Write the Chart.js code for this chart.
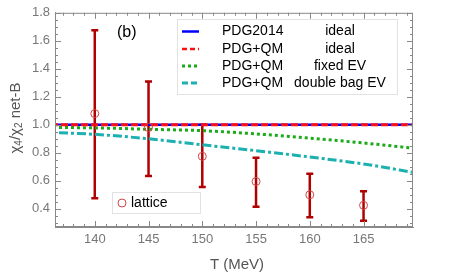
<!DOCTYPE html>
<html><head><meta charset="utf-8">
<script src="https://cdn.jsdelivr.net/npm/chart.js@4/dist/chart.umd.min.js"></script>
<style>html,body{margin:0;padding:0;background:#fff}#wrap{width:450px;height:280px}</style>
</head><body><div id="wrap"><canvas id="c" width="450" height="280"></canvas></div>
<script>
// Lattice data
const latticeT = [140, 145, 150, 155, 160, 165];
const latticeVal = [1.08, 0.98, 0.775, 0.595, 0.50, 0.425];
const latticeHi = [1.675, 1.31, 1.0, 0.765, 0.65, 0.525];
const latticeLo = [0.475, 0.635, 0.555, 0.415, 0.34, 0.315];
// Model curves
const modelT = [135, 140, 145, 150, 155, 160, 165, 170];
const pdgIdeal = [1, 1, 1, 1, 1, 1, 1, 1];
const qmIdeal = [1, 1, 1, 1, 1, 1, 1, 1];
const qmFixedEV = [0.982, 0.978, 0.968, 0.958, 0.935, 0.905, 0.87, 0.83];
const qmDoubleBag = [0.948, 0.932, 0.90, 0.857, 0.815, 0.77, 0.72, 0.655];
// Ticks
const xTicks = [140, 145, 150, 155, 160, 165];
const yTicks = [0.4, 0.6, 0.8, 1.0, 1.2, 1.4, 1.6, 1.8];
const legendRows = [
  ['PDG2014', 'ideal'], ['PDG+QM', 'ideal'], ['PDG+QM', 'fixed EV'], ['PDG+QM', 'double bag EV']
];

const pts = (xs, ys) => xs.map((x, i) => ({x, y: ys[i]}));
const FONT = '"Liberation Sans", Arial, sans-serif';

const styles = [
  {c: '#0000ff', w: 2.5, d: []},
  {c: '#ff1010', w: 3, d: [7, 3]},
  {c: '#1aaa1a', w: 3, d: [3, 3]},
  {c: '#1cb0b0', w: 3, d: [9, 3, 3, 3]}
];
const legendStyles = [
  {c: '#0000ff', w: 2.5, d: []},
  {c: '#ff1010', w: 2.5, d: [5, 3]},
  {c: '#1aaa1a', w: 3, d: [3, 3]},
  {c: '#1cb0b0', w: 3, d: [6, 3, 6, 3]}
];

const deco = {
  id: 'deco',
  beforeDatasetsDraw(chart) {
    const {ctx, scales: {x, y}} = chart;
    ctx.save();
    ctx.beginPath();
    ctx.rect(chart.chartArea.left, chart.chartArea.top, chart.chartArea.width, chart.chartArea.height);
    ctx.clip();
    ctx.strokeStyle = '#b00000';
    ctx.lineWidth = 2.5;
    latticeT.forEach((t, i) => {
      const px = x.getPixelForValue(t);
      const ph = y.getPixelForValue(latticeHi[i]);
      const pl = y.getPixelForValue(latticeLo[i]);
      ctx.beginPath();
      ctx.moveTo(px, ph); ctx.lineTo(px, pl);
      ctx.moveTo(px - 3.5, ph); ctx.lineTo(px + 3.5, ph);
      ctx.moveTo(px - 3.5, pl); ctx.lineTo(px + 3.5, pl);
      ctx.stroke();
    });
    ctx.restore();
  },
  afterDatasetsDraw(chart) {
    const {ctx, chartArea: a, scales: {x, y}} = chart;
    ctx.save();
    // frame
    ctx.strokeStyle = '#888';
    ctx.lineWidth = 1;
    ctx.strokeRect(a.left + 0.5, a.top + 0.5, a.width - 1, a.height - 1);
    // ticks
    ctx.beginPath();
    for (let v = 137; v <= 169; v += 1) {
      const px = Math.round(x.getPixelForValue(v)) + 0.5;
      const len = v % 5 === 0 ? 6 : 3;
      ctx.moveTo(px, a.bottom); ctx.lineTo(px, a.bottom - len);
      ctx.moveTo(px, a.top); ctx.lineTo(px, a.top + len);
    }
    for (let k = 6; k <= 36; k++) {
      const v = k * 0.05;
      const py = Math.round(y.getPixelForValue(v)) + 0.5;
      const len = k % 4 === 0 ? 6 : 3;
      ctx.moveTo(a.left, py); ctx.lineTo(a.left + len, py);
      ctx.moveTo(a.right, py); ctx.lineTo(a.right - len, py);
    }
    ctx.stroke();

    // (b)
    ctx.fillStyle = '#000';
    ctx.font = '16px ' + FONT;
    ctx.textBaseline = 'middle';
    ctx.textAlign = 'left';
    ctx.fillText('(b)', 117, 33);

    // main legend
    ctx.fillStyle = '#fff';
    ctx.fillRect(177, 19, 221, 75);
    ctx.strokeStyle = '#e2e2e2';
    ctx.strokeRect(177.5, 19.5, 220, 75);
    const rowsY = [31.5, 49, 66, 83];
    legendRows.forEach((r, i) => {
      const s = legendStyles[i];
      ctx.strokeStyle = s.c; ctx.lineWidth = s.w; ctx.setLineDash(s.d);
      ctx.beginPath(); ctx.moveTo(182, rowsY[i]); ctx.lineTo(199, rowsY[i]); ctx.stroke();
      ctx.setLineDash([]);
      ctx.fillStyle = '#000';
      ctx.font = '14px ' + FONT;
      ctx.textAlign = 'left';
      ctx.fillText(r[0], 222, rowsY[i]);
      ctx.textAlign = 'center';
      ctx.fillText(r[1], 340, rowsY[i]);
    });

    // lattice legend
    ctx.fillStyle = '#fff';
    ctx.fillRect(112, 192, 89, 22);
    ctx.strokeStyle = '#e2e2e2'; ctx.lineWidth = 1;
    ctx.strokeRect(112.5, 192.5, 88, 21);
    ctx.strokeStyle = '#d04545'; ctx.lineWidth = 1;
    ctx.beginPath(); ctx.arc(122, 203, 4, 0, Math.PI * 2); ctx.stroke();
    ctx.fillStyle = '#000'; ctx.textAlign = 'left';
    ctx.font = '14px ' + FONT;
    ctx.fillText('lattice', 131, 203.5);

    // x title
    ctx.fillStyle = '#555';
    ctx.font = '15px ' + FONT;
    ctx.textAlign = 'center';
    ctx.fillText('T (MeV)', 237, 265);

    // y title with subscripts
    ctx.translate(16, 118);
    ctx.rotate(-Math.PI / 2);
    const parts = [['χ', 15, 0], ['4', 10, 3], ['/χ', 15, 0], ['2', 10, 3], [' net-B', 15, 0]];
    let total = 0;
    parts.forEach(p => { ctx.font = p[1] + 'px ' + FONT; total += ctx.measureText(p[0]).width; });
    let cx = -total / 2;
    ctx.textAlign = 'left';
    parts.forEach(p => {
      ctx.font = p[1] + 'px ' + FONT;
      ctx.fillText(p[0], cx, p[2]);
      cx += ctx.measureText(p[0]).width;
    });
    ctx.restore();
  }
};

const lineDs = (label, data, s, order) => ({
  type: 'line', label, data: pts(modelT, data), order,
  borderColor: s.c, borderWidth: s.w, borderDash: s.d,
  pointRadius: 0, fill: false, cubicInterpolationMode: 'monotone'
});

new Chart(document.getElementById('c'), {
  type: 'scatter',
  data: {
    datasets: [
      lineDs('PDG2014 ideal', pdgIdeal, styles[0], 3),
      lineDs('PDG+QM ideal', qmIdeal, styles[1], 2),
      lineDs('PDG+QM fixed EV', qmFixedEV, styles[2], 4),
      lineDs('PDG+QM double bag EV', qmDoubleBag, styles[3], 4),
      {
        type: 'scatter', label: 'lattice', data: pts(latticeT, latticeVal), order: 1,
        pointStyle: 'circle', pointRadius: 4, borderWidth: 1,
        borderColor: '#d04545', backgroundColor: 'rgba(0,0,0,0)'
      }
    ]
  },
  options: {
    responsive: false, animation: false, devicePixelRatio: 1,
    layout: {padding: {left: 0, top: 6, right: 37, bottom: 0}},
    plugins: {legend: {display: false}, tooltip: {enabled: false}},
    scales: {
      x: {
        type: 'linear', min: 136.3, max: 169.6,
        afterFit: s => { s.height = 53; },
        afterBuildTicks: s => { s.ticks = xTicks.map(v => ({value: v})); },
        grid: {display: false, drawTicks: false},
        border: {display: true, color: '#888'},
        ticks: {color: '#777', font: {size: 13, family: FONT}, padding: 5, maxRotation: 0}
      },
      y: {
        type: 'linear', min: 0.27, max: 1.8,
        afterFit: s => { s.width = 55; },
        afterBuildTicks: s => { s.ticks = yTicks.map(v => ({value: v})); },
        grid: {display: false, drawTicks: false},
        border: {display: true, color: '#888'},
        ticks: {color: '#777', font: {size: 13, family: FONT}, padding: 5,
          callback: v => v.toFixed(1)}
      }
    }
  },
  plugins: [deco]
});
</script></body></html>
